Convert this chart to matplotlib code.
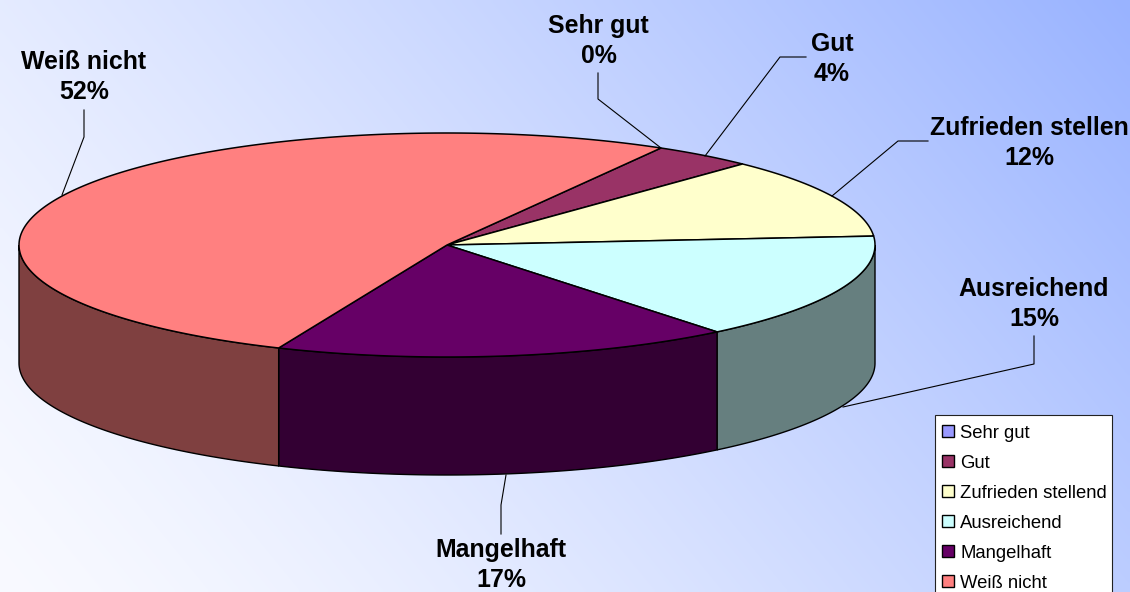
import numpy as np
import matplotlib
matplotlib.use('Agg')
import matplotlib.pyplot as plt
from matplotlib.patches import Polygon, Rectangle

plt.rcParams['font.family'] = ['Liberation Sans', 'DejaVu Sans']

# values (labels show them rounded)
categories = ['Sehr gut', 'Gut', 'Zufrieden stellend', 'Ausreichend', 'Mangelhaft', 'Weiß nicht']
values = [0, 3.8, 11.6, 15.4, 17.3, 51.9]
label_names = ['Sehr gut', 'Gut', 'Zufrieden stellen', 'Ausreichend', 'Mangelhaft', 'Weiß nicht']
colors = ['#9999FF', '#993366', '#FFFFCC', '#CCFFFF', '#660066', '#FF8080']
side_colors = ['#4C4C7F', '#4C1933', '#7F7F66', '#667F7F', '#330033', '#7F4040']

# label text centre and leader line
label_pos = [(598.5, 41), (832, 59), (1029, 143), (1034, 304), (501, 565), (84, 77)]
leaders = [
    [(598, 73), (598, 99), (661, 148)],
    [(806, 57), (780, 57), (705, 156)],
    [(928, 141), (898, 141), (832, 196)],
    [(1034, 336), (1034, 364), (843, 407)],
    [(501, 534), (501, 505), (506, 475)],
    [(84, 110), (84, 137), (62, 195)],
]

cx, cy = 447, 245
rx, ry = 428, 112
depth = 118
start = 60

fig = plt.figure(figsize=(11.3, 5.92), dpi=100)
ax = fig.add_axes([0, 0, 1, 1])
ax.axis('off')

# background gradient, white lower left to blue upper right
xx, yy = np.meshgrid(np.linspace(0, 1, 283), np.linspace(0, 1, 148))
t = np.clip(0.7 * xx + 0.3 * (1 - yy), 0, 1) ** 1.3
c0 = np.array([0.975, 0.98, 1.0])
c1 = np.array([0x99, 0xB3, 0xFF]) / 255
bg = c0 + (c1 - c0) * t[..., None]
ax.imshow(bg, extent=[0, 1130, 592, 0], aspect='auto', interpolation='bilinear', zorder=0)
ax.set_xlim(0, 1130)
ax.set_ylim(592, 0)


def ell(a):
    a = np.radians(a)
    return cx + rx * np.cos(a), cy - ry * np.sin(a)


# slice boundaries, going clockwise
bounds = start - np.cumsum([0] + [v * 3.6 for v in values])

# side walls, only the lower half of the rim shows
for i in range(len(values)):
    a0 = min(bounds[i], 0)
    a1 = max(bounds[i + 1], -180)
    if a0 <= a1:
        continue
    aa = np.linspace(a0, a1, 80)
    x, y = ell(aa)
    pts = list(zip(x, y)) + list(zip(x[::-1], y[::-1] + depth))
    ax.add_patch(Polygon(pts, closed=True, fc=side_colors[i], ec='black', lw=1.0, zorder=2))

# top face
for i in range(len(values)):
    if values[i] == 0:
        continue
    aa = np.linspace(bounds[i], bounds[i + 1], 200)
    x, y = ell(aa)
    pts = [(cx, cy)] + list(zip(x, y))
    ax.add_patch(Polygon(pts, closed=True, fc=colors[i], ec='black', lw=1.1, zorder=3))

# leader lines and labels
for i in range(len(values)):
    lx, ly = zip(*leaders[i])
    ax.plot(lx, ly, color='black', lw=0.8, zorder=4)
    ax.text(label_pos[i][0], label_pos[i][1], f'{label_names[i]}\n{values[i]:.0f}%',
            ha='center', va='center', fontsize=17.9, fontweight='bold',
            linespacing=1.33, color='black', zorder=5)

# legend box runs off the bottom of the image
ax.add_patch(Rectangle((935, 415), 177, 190, fc='white', ec='#222222', lw=0.8, zorder=5))
for i, name in enumerate(categories):
    y = 431 + i * 30
    ax.add_patch(Rectangle((942, y - 6), 12, 12, fc=colors[i], ec='black', lw=1.0, zorder=6))
    ax.text(960, y + 2.5, name, ha='left', va='center', fontsize=13.3, color='black', zorder=6)

fig.savefig('out.png', dpi=100)
